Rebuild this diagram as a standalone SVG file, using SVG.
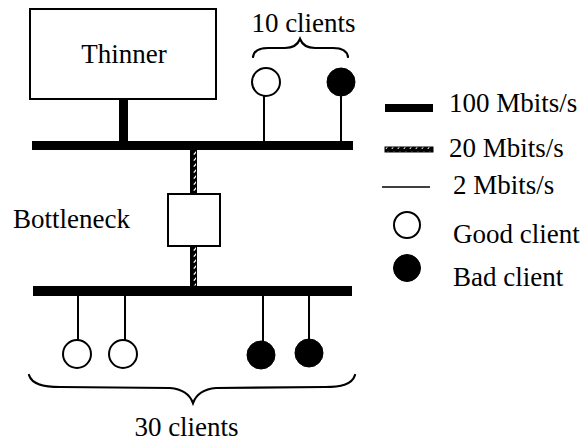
<svg xmlns="http://www.w3.org/2000/svg" width="584" height="441" viewBox="0 0 584 441">
  <style>
    text { font-size: 27px; fill: #000; }
    .box { fill: #fff; stroke: #000; stroke-width: 2; }
    .bus { fill: #000; }
    .thin { stroke: #000; stroke-width: 2; fill: none; }
    .good { fill: #fff; stroke: #000; stroke-width: 2; }
    .bad { fill: #000; stroke: #000; stroke-width: 1; }
    .brace { fill: none; stroke: #000; stroke-width: 2.2; stroke-linecap: round; }
    .hatch { fill: url(#hatch); stroke: #000; stroke-width: 1; }
  </style>
  <defs>
    <!-- 20 Mbit/s link fill: black with white diagonal dashes -->
    <pattern id="hatch" patternUnits="userSpaceOnUse" width="6" height="6">
      <rect width="6" height="6" fill="#000"/>
      <line x1="1.8" y1="4.6" x2="4.4" y2="1.6" stroke="#fff" stroke-width="1.4"/>
    </pattern>
  </defs>

  <!-- links -->
  <g id="connectors">
    <!-- 100 Mbit/s buses -->
    <rect class="bus" x="32" y="141" width="321" height="9"/>
    <rect class="bus" x="33" y="286" width="319" height="10"/>
    <!-- thinner uplink -->
    <rect class="bus" x="119" y="98" width="9" height="44"/>
    <!-- 20 Mbit/s links through the bottleneck -->
    <rect class="hatch" x="190.5" y="150" width="6" height="44"/>
    <rect class="hatch" x="190.5" y="246" width="6" height="40"/>
    <!-- 2 Mbit/s client links -->
    <line class="thin" x1="264" y1="96" x2="264" y2="141"/>
    <line class="thin" x1="341" y1="96" x2="341" y2="141"/>
    <line class="thin" x1="78" y1="296" x2="78" y2="340"/>
    <line class="thin" x1="125" y1="296" x2="125" y2="340"/>
    <line class="thin" x1="263" y1="296" x2="263" y2="341"/>
    <line class="thin" x1="309" y1="296" x2="309" y2="339"/>
  </g>

  <g id="thinner" font-family="'Liberation Serif', Tinos, 'Times New Roman', 'DejaVu Serif', serif">
    <rect class="box" x="30" y="9" width="186" height="90"/>
    <text x="124" y="63" text-anchor="middle" font-size="26.5">Thinner</text>
  </g>

  <g id="bottleneck" font-family="'Liberation Serif', Tinos, 'Times New Roman', 'DejaVu Serif', serif">
    <rect class="box" x="168" y="194" width="52" height="52"/>
    <text x="13" y="228" font-size="27.5">Bottleneck</text>
  </g>

  <g id="top-clients" font-family="'Liberation Serif', Tinos, 'Times New Roman', 'DejaVu Serif', serif">
    <circle class="good" cx="266" cy="82" r="14"/>
    <circle class="bad" cx="341" cy="82" r="14"/>
    <path class="brace" d="M253,57 C254,50 260,48 268,48 L285,48 C293,48 298,44 300,39 C302,44 307,48 315,48 L333,48 C341,48 347,50 348,57"/>
    <text x="303.5" y="32" text-anchor="middle" font-size="26.5">10 clients</text>
  </g>

  <g id="bottom-clients" font-family="'Liberation Serif', Tinos, 'Times New Roman', 'DejaVu Serif', serif">
    <circle class="good" cx="77" cy="354" r="14"/>
    <circle class="good" cx="123" cy="354" r="14"/>
    <circle class="bad" cx="261" cy="355" r="14"/>
    <circle class="bad" cx="309" cy="353" r="14"/>
    <path class="brace" d="M29,375 C32,385 45,387 60,387 L170,388 C182,389 190,395 193,403 C196,395 204,389 216,388 L325,387 C340,387 352,385 355,375"/>
    <text x="186.5" y="436" text-anchor="middle">30 clients</text>
  </g>

  <g id="legend" font-family="'Liberation Serif', Tinos, 'Times New Roman', 'DejaVu Serif', serif">
    <rect class="bus" x="385" y="104" width="48" height="8"/>
    <text x="449" y="112" font-size="25">100 Mbits/s</text>
    <rect class="hatch" x="385" y="147" width="48" height="5"/>
    <text x="449" y="157" font-size="26">20 Mbits/s</text>
    <line x1="382" y1="187" x2="430" y2="187" stroke="#000" stroke-width="1.5"/>
    <text x="453" y="194">2 Mbits/s</text>
    <circle class="good" cx="407" cy="225" r="13"/>
    <text x="453" y="243" font-size="27.5">Good client</text>
    <circle class="bad" cx="407" cy="268" r="13.5"/>
    <text x="453" y="286">Bad client</text>
  </g>
</svg>
